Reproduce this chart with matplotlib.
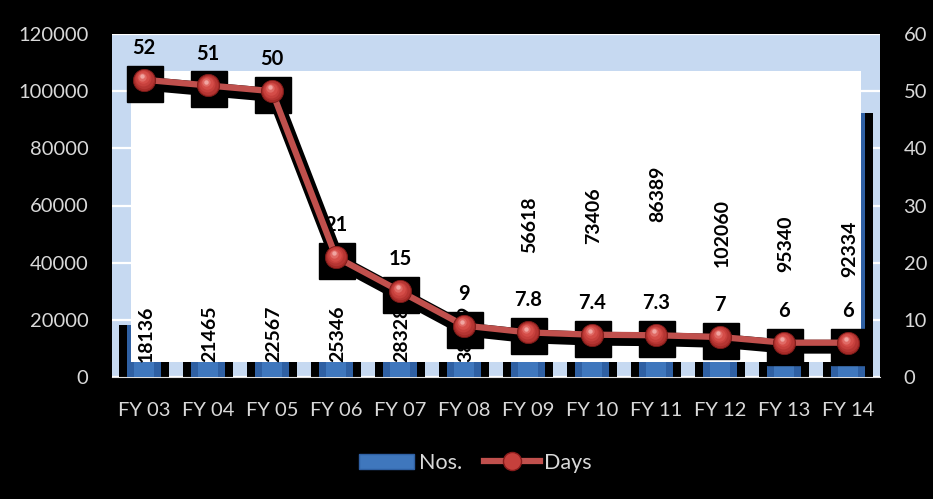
import matplotlib
matplotlib.use("Agg")
import matplotlib.pyplot as plt
from matplotlib.patches import Rectangle, Patch
from matplotlib.lines import Line2D
from matplotlib.transforms import ScaledTranslation
import numpy as np

# ---- data ----
categories = ["FY 03", "FY 04", "FY 05", "FY 06", "FY 07", "FY 08",
              "FY 09", "FY 10", "FY 11", "FY 12", "FY 13", "FY 14"]
nos = [18136, 21465, 22567, 25346, 28328, 38969,
       56618, 73406, 86389, 102060, 95340, 92334]
days = [52, 51, 50, 21, 15, 9, 7.8, 7.4, 7.3, 7, 6, 6]
days_labels = ["52", "51", "50", "21", "15", "9", "7.8", "7.4", "7.3", "7", "6", "6"]
left_ticks = [0, 20000, 40000, 60000, 80000, 100000, 120000]
right_ticks = [0, 10, 20, 30, 40, 50, 60]

# ---- layout (label anchor heights, in left-axis units) ----
nos_label_base = [5300] * 6 + [43500, 46700, 54400, 38600, 36800, 35100]

FONT = "Lato"
TXT = "#d9d9d9"
plt.rcParams["font.family"] = [FONT, "DejaVu Sans"]

fig = plt.figure(figsize=(9.33, 4.99), dpi=100, facecolor="black")
ax = fig.add_axes([112/933, 1-377/499, (880-112)/933, (377-34)/499])
ax.set_facecolor("#c6d9f1")
ax2 = ax.twinx()

x = np.arange(len(categories))

# gridlines on the plot area
ax.set_axisbelow(True)
ax.yaxis.grid(True, color="white", lw=1.6, zorder=0)

# bars (shadow, body, highlight)
ax.bar(x, nos, width=0.77, color="black", zorder=2)
ax.bar(x, nos, width=0.516, color="#2f60a3", zorder=3)
ax.bar(x, nos, width=0.30, color="#3f77bd", zorder=3)

# white overlay area
ax.add_patch(Rectangle((-0.203, 5263), 11.403, 101737, facecolor="white",
                       edgecolor="none", zorder=4))

# bar value labels
for i, v in enumerate(nos):
    ax.text(x[i] + 0.03, nos_label_base[i], str(v), rotation=90, ha="center",
            va="bottom", fontsize=14, fontweight="bold", color="black", zorder=5)

# days labels (drawn beneath the line)
for i, d in enumerate(days):
    ax.annotate(days_labels[i], xy=(x[i], d), xycoords=ax2.transData,
                xytext=(0, 23), textcoords="offset points", ha="center",
                va="center", fontsize=14.5, fontweight="bold", color="black",
                zorder=5)

# line with shadow
shadow = ax2.transData + ScaledTranslation(2/100, -4/100, fig.dpi_scale_trans)
boxoff = ax2.transData + ScaledTranslation(1/100, -4/100, fig.dpi_scale_trans)
ax2.plot(x, days, color="black", lw=10, solid_joinstyle="round",
         transform=shadow, zorder=2)
ax2.plot(x, days, ls="none", marker="s", ms=26, color="black",
         transform=boxoff, zorder=2)
ax2.plot(x, days, color="#c0504d", lw=4.5, solid_joinstyle="round", zorder=3)
# sphere-like markers: layered circles
ax2.plot(x, days, ls="none", marker="o", ms=16, markerfacecolor="#a52a27",
         markeredgecolor="#7a1a18", markeredgewidth=0.6, zorder=4)
sphere_layers = [(14, "#b53532", -0.5, 0.8), (11.5, "#c6403c", -1.0, 1.6),
                 (9, "#d44d48", -1.5, 2.4), (6, "#e06a65", -2.0, 3.2),
                 (3.2, "#f0a5a1", -2.4, 3.8)]
for ms, col, dx, dy in sphere_layers:
    tr = ax2.transData + ScaledTranslation(dx/100, dy/100, fig.dpi_scale_trans)
    ax2.plot(x, days, ls="none", marker="o", ms=ms, markerfacecolor=col,
             markeredgecolor="none", transform=tr, zorder=5)

# axes
ax.set_xlim(-0.5, 11.5)
ax.set_ylim(0, 120000)
ax2.set_ylim(0, 60)
ax.set_yticks(left_ticks)
ax.set_yticklabels([str(t) for t in left_ticks])
ax2.set_yticks(right_ticks)
ax2.set_yticklabels([str(t) for t in right_ticks])
ax.set_xticks(x)
ax.set_xticklabels(categories)
for a in (ax, ax2):
    for s in a.spines.values():
        s.set_visible(False)
ax.spines["bottom"].set_visible(True)
ax.spines["bottom"].set_color("#e0e0e0")
ax.tick_params(axis="y", length=0, pad=17, labelsize=14.5, labelcolor=TXT)
ax.tick_params(axis="x", length=0, pad=18, labelsize=14.5, labelcolor=TXT)
ax2.tick_params(axis="y", length=0, pad=17, labelsize=14.5, labelcolor=TXT)

# legend
h1 = Patch(facecolor="#3f77bd", edgecolor="#2f60a3")
h2 = Line2D([0], [0], color="#c0504d", lw=4.5, marker="o", ms=13,
            markerfacecolor="#c6403c", markeredgecolor="#8a1c1c")
leg = fig.legend([h1, h2], ["Nos.", "Days"], loc="center",
                 bbox_to_anchor=(475/933, 1-463/499), ncol=2, frameon=False,
                 fontsize=15.5, handlelength=2.6, handleheight=0.7,
                 handletextpad=0.2, columnspacing=1.0)
for t in leg.get_texts():
    t.set_color(TXT)

fig.savefig("out.png", dpi=100, facecolor="black")
